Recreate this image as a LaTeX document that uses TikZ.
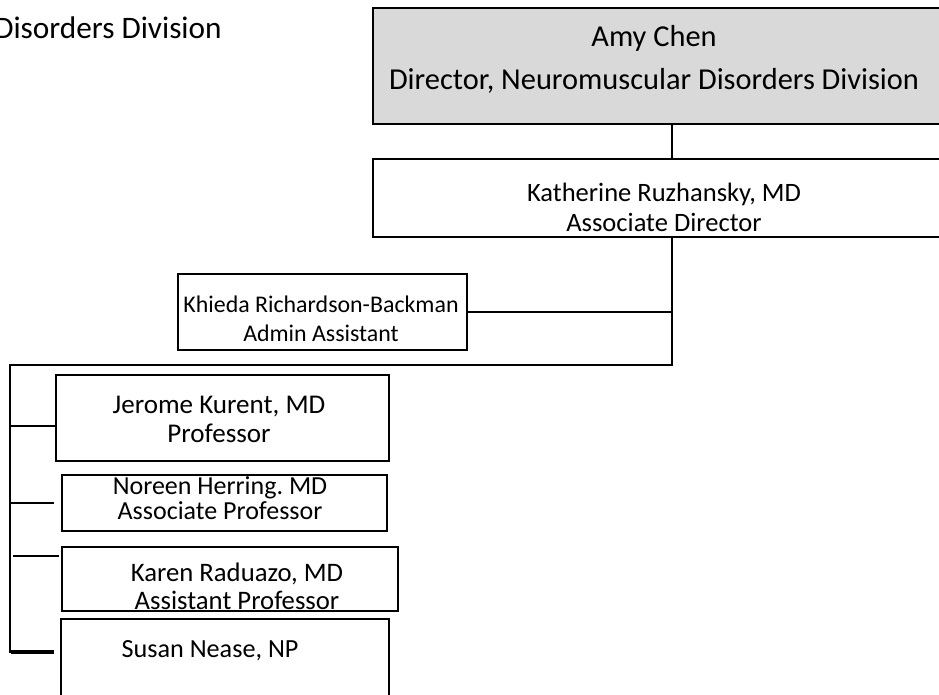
\documentclass[tikz,border=0pt]{standalone}
\usepackage{fontspec}
\setmainfont{Carlito}
\frenchspacing
\definecolor{boxgray}{HTML}{D9D9D9}
\begin{document}
\begin{tikzpicture}[x=0.02cm, y=-0.02cm,
        box/.style={draw=black, line width=0.9pt, inner sep=0pt},
        txt/.style={inner sep=0pt, align=center},
        trunk/.style={draw=black, line width=1.5pt},
        twig/.style={draw=black, line width=0.6pt}]
        \useasboundingbox (0,0) rectangle (939,695);
        \node[txt, anchor=east, font=\fontsize{17.8}{21}\selectfont] (head) at (222,28) {Disorders Division};
        \node[box, fill=boxgray, minimum width=11.34cm, minimum height=2.32cm] (dir) at (656.5,66) {};
        \node[box, minimum width=11.7cm, minimum height=1.56cm] (assoc) at (665.5,198) {};
        \node[box, minimum width=5.78cm, minimum height=1.52cm] (admin) at (322.5,312) {};
        \node[box, minimum width=6.66cm, minimum height=1.72cm] (jerome) at (222.5,418) {};
        \node[box, minimum width=6.5cm, minimum height=1.12cm] (noreen) at (224.5,503) {};
        \node[box, minimum width=6.72cm, minimum height=1.28cm] (karen) at (230,579) {};
        \node[box, minimum width=6.56cm, minimum height=1.72cm] (susan) at (225,662) {};
        \node[txt, font=\fontsize{17.3}{24.5}\selectfont] (dirtext) at (654,59.5) {Amy Chen\\Director, Neuromuscular Disorders Division};
        \node[txt, font=\fontsize{15.1}{17}\selectfont] (assoctext) at (664,207) {Katherine Ruzhansky, MD\\Associate Director};
        \node[txt, font=\fontsize{13.6}{16.5}\selectfont] (admintext) at (321,318.5) {Khieda Richardson-Backman\\Admin Assistant};
        \node[txt, font=\fontsize{15.4}{16.5}\selectfont] (jerometext) at (219,419.5) {Jerome Kurent, MD\\Professor};
        \node[txt, font=\fontsize{14.8}{14.2}\selectfont] (noreentext) at (220,498.5) {Noreen Herring. MD\\Associate Professor};
        \node[txt, font=\fontsize{15.2}{16}\selectfont] (karentext) at (237,586) {Karen Raduazo, MD\\Assistant Professor};
        \node[txt, font=\fontsize{14.9}{17}\selectfont] (susantext) at (210,650.5) {Susan Nease, NP};
        \coordinate (jn) at (672,365);
        \coordinate (corner) at (10,365);
        \coordinate (spineend) at (10,653);
        \draw[trunk] (dir.south -| jn) -- (assoc.north -| jn);
        \draw[trunk] (assoc.south -| jn) -- (jn) -- (corner) -- (spineend);
        \draw[trunk] (admin.east) -- (admin.east -| jn);
        \draw[twig] ([yshift=-0.16cm]jerome.west) -- ([yshift=-0.16cm]jerome.west -| corner);
        \draw[twig] ([xshift=-0.14cm]noreen.west) -- (noreen.west -| corner);
        \draw[twig] ([xshift=-0.04cm, yshift=0.46cm]karen.west) -- ++(-46,0);
        \draw[trunk, line width=1.9pt] ([xshift=-0.12cm, yshift=0.2cm]susan.west) -- ++(-43,0);
\end{tikzpicture}
\end{document}
